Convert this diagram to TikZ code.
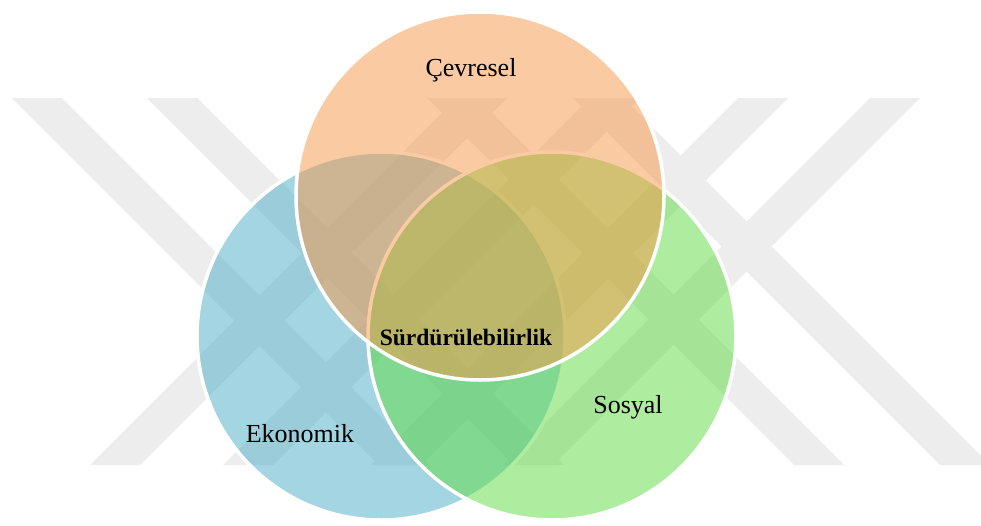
\documentclass[tikz,border=0pt]{standalone}
\usepackage{fontspec}
\setmainfont{Liberation Serif}
\definecolor{wmgray}{RGB}{237,237,237}
\definecolor{ekoblue}{RGB}{75,172,198}
\definecolor{sosgreen}{RGB}{95,221,65}
\definecolor{cevorange}{RGB}{247,150,70}
\begin{document}
\begin{tikzpicture}[x=1pt,y=-1pt,
  wmband/.style={fill=wmgray,draw=none},
  venn/.style={circle,minimum size=368pt,inner sep=0pt,draw=white,
    line width=3.5pt,fill opacity=0.5,draw opacity=1},
  lbl/.style={anchor=base,font=\fontsize{26}{30}\selectfont},
  core/.style={anchor=base,font=\fontsize{23.5}{28}\selectfont\bfseries}]
\useasboundingbox (0,0) rectangle (981,525);
\fill[white] (0,0) rectangle (981,525);

% background emblem: crossing diagonal bars
\foreach \t in {12,147,427,573}
  \fill[wmband] (\t,98) -- (\t+50,98) -- (\t+417,465) -- (\t+367,465) -- cycle;
\foreach \t in {457,590,738,870}
  \fill[wmband] (\t,98) -- (\t+50,98) -- (\t-317,465) -- (\t-367,465) -- cycle;

% the three pillars
\node[venn,fill=ekoblue]   (eko) at (381,336) {};
\node[venn,fill=sosgreen]  (sos) at (552,336) {};
\node[venn,fill=cevorange] (cev) at (480,196) {};

% labels
\node[lbl]  (tcev)  at (471,76.5) {Çevresel};
\node[lbl]  (teko)  at (300,442)  {Ekonomik};
\node[lbl]  (tsos)  at (628,413)  {Sosyal};
\node[core] (tcore) at (466,345)  {Sürdürülebilirlik};
\end{tikzpicture}
\end{document}
